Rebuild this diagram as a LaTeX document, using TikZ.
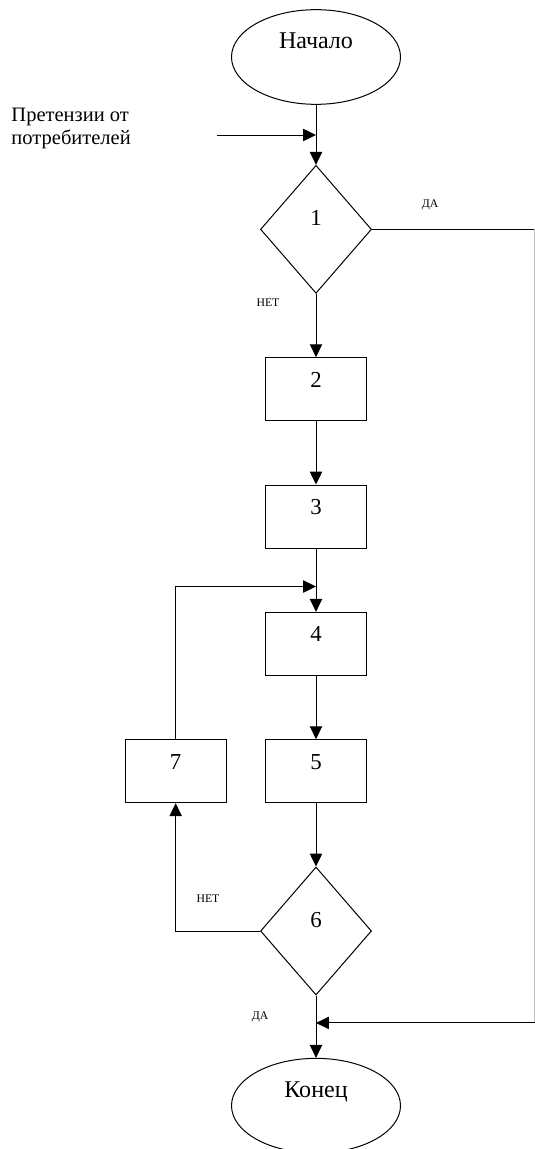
\documentclass[tikz,border=0pt]{standalone}
\usepackage{fontspec}
\setmainfont{Liberation Serif}
\usetikzlibrary{shapes.geometric,arrows.meta,positioning,calc}
\tikzset{>={Triangle[length=11pt,width=10.5pt]}}
\tikzset{term node/.style={ellipse,draw,minimum width=5.07cm,minimum height=2.84cm,inner sep=2pt,
            font=\fontsize{20.5}{24}\selectfont,text height=0.5cm,text depth=1.0cm},
         box node/.style={rectangle,draw,minimum width=3.03cm,minimum height=1.89cm,
            font=\fontsize{19.5}{23}\selectfont,text height=0.5cm,text depth=0.62cm},
         test node/.style={diamond,draw,minimum width=3.33cm,minimum height=3.84cm,inner sep=1pt,
            font=\fontsize{19.5}{23}\selectfont,text height=0.5cm,text depth=0.74cm},
         note/.style={font=\fontsize{10}{12}\selectfont,inner sep=0pt},
            }

\begin{document}
\begin{tikzpicture}[x=0.03cm,y=-0.03cm,line width=0.85pt,node distance=1.9cm]
    \useasboundingbox (0,0) rectangle (535,1149);

    \node[term node] (start) at (316,57) {Начало};
    \node[test node] (q1) [below=1.8cm of start] {1};
    \node[box node] (s2) [below=of q1] {2};
    \node[box node] (s3) [below=of s2] {3};
    \node[box node] (s4) [below=of s3] {4};
    \node[box node] (s5) [below=of s4] {5};
    \node[box node] (s7) [left=1.15cm of s5] {7};
    \node[test node] (q6) [below=of s5] {6};
    \node[term node] (end) [below=1.87cm of q6] {Конец};

    \node[font=\fontsize{17.5}{19.6}\selectfont,align=left,anchor=west,inner sep=0pt] (claims) at (11,128) {Претензии от\\потребителей};

    \coordinate (claimsin) at (217,135);
    \coordinate (redge) at (534.5,0);
    \coordinate (loopin) at ($(s3.south)!0.6!(s4.north)$);
    \coordinate (backin) at ($(q6.south)!0.44!(end.north)$);

    \path[draw,->]
    (start) edge (q1)
    (q1) edge (s2)
    (s2) edge (s3)
    (s3) edge (s4)
    (s4) edge (s5)
    (s5) edge (q6)
    (q6) edge (end);

    \draw[->] (claimsin) -- (claimsin -| start.south);
    % yes-branch of 1 runs along the right edge
    \draw (q1.east) -- (redge |- q1.east);
    \draw[black!25] (redge |- q1.east) -- (redge |- backin);
    \draw[->] (redge |- backin) -- (backin);
    \draw[->] (q6.west) -| (s7.south);
    \draw[->] (s7.north) |- (loopin);

    \node[note] (yes1) at (430,205) {ДА};
    \node[note] (no1) at (268,303) {НЕТ};
    \node[note] (no6) at (208,899) {НЕТ};
    \node[note] (yes6) at (260,1017) {ДА};

\end{tikzpicture}
\end{document}
